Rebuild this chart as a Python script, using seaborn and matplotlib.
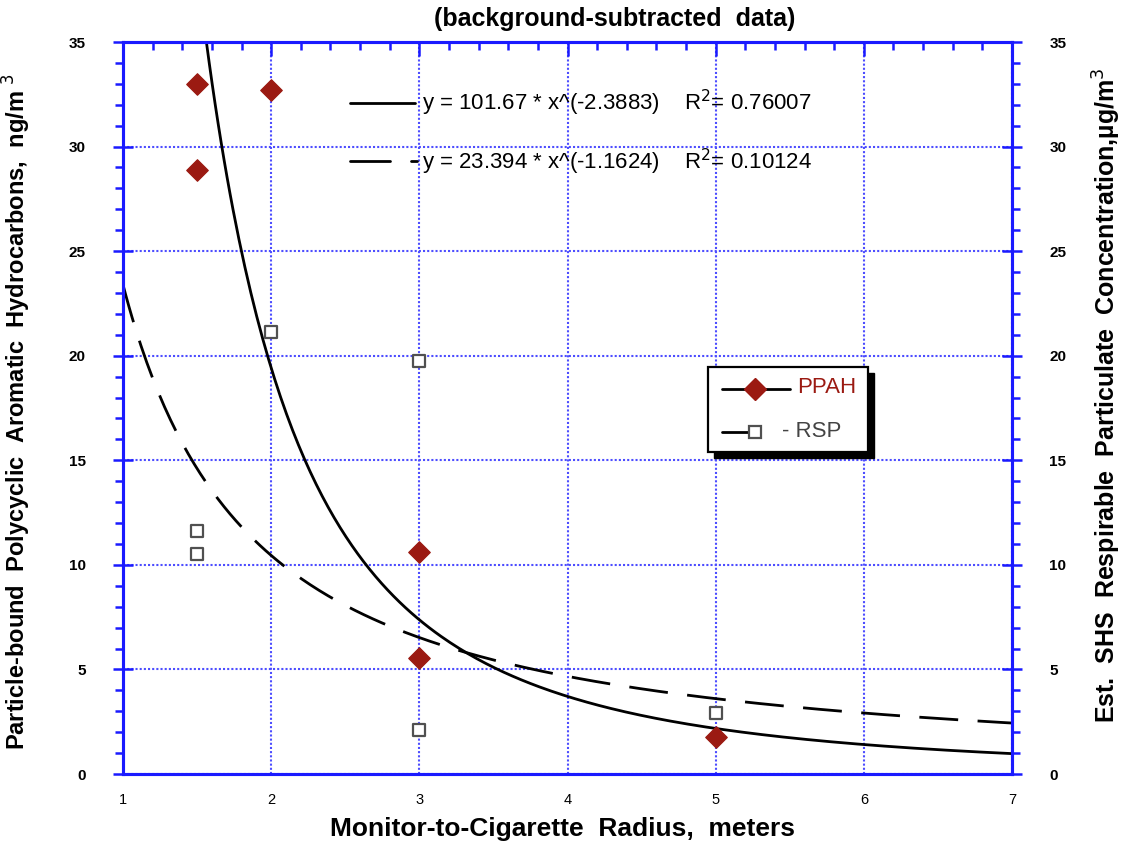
import numpy as np
import pandas as pd
import matplotlib
matplotlib.use("Agg")
import matplotlib.pyplot as plt
from matplotlib.lines import Line2D
from matplotlib.patches import Rectangle
from matplotlib.ticker import MultipleLocator
import seaborn as sns

# ---- data ----
ppah_x = [1.5, 1.5, 2.0, 3.0, 3.0, 5.0]
ppah_y = [33.0, 28.9, 32.7, 10.6, 5.55, 1.77]
rsp_x = [1.5, 1.5, 2.0, 3.0, 3.0, 5.0]
rsp_y = [11.62, 10.52, 21.14, 19.75, 2.10, 2.92]
# power-fit coefficients shown on the chart: y = a * x^b
fit_ppah = (101.67, -2.3883)
fit_rsp = (23.394, -1.1624)
fit_labels = ["y = 101.67 * x^(-2.3883)    R$^2$= 0.76007",
              "y = 23.394 * x^(-1.1624)    R$^2$= 0.10124"]
series_names = ["PPAH", "- RSP"]
x_ticks = [1, 2, 3, 4, 5, 6, 7]
y_ticks = [0, 5, 10, 15, 20, 25, 30, 35]

sns.set_theme(style="white")
plt.rcParams['font.family'] = ['Liberation Sans', 'DejaVu Sans']
plt.rcParams['text.color'] = 'black'
plt.rcParams['xtick.color'] = 'black'
plt.rcParams['ytick.color'] = 'black'

BLUE = "#1a1aff"
GRID = "#4d4dff"
RED = "#9b1a12"
GRAY = "#505050"

W, H = 1128, 848
fig = plt.figure(figsize=(W/100, H/100), dpi=100)
ax = fig.add_axes([123/W, 1-774/H, (1012-123)/W, (774-42)/H])

xs = np.linspace(1, 7, 300)
df_fit = pd.DataFrame({
    "x": np.concatenate([xs, xs]),
    "y": np.concatenate([fit_ppah[0]*xs**fit_ppah[1], fit_rsp[0]*xs**fit_rsp[1]]),
    "fit": ["PPAH"]*len(xs) + ["RSP"]*len(xs),
})
sns.lineplot(data=df_fit[df_fit.fit == "PPAH"], x="x", y="y", color="black", lw=2, ax=ax, legend=False)
sns.lineplot(data=df_fit[df_fit.fit == "RSP"], x="x", y="y", color="black", lw=2, ax=ax,
             legend=False, linestyle=(0, (14, 7)))

sns.scatterplot(x=ppah_x, y=ppah_y, marker="D", s=120, color=RED, edgecolor=RED, ax=ax, zorder=5)
sns.scatterplot(x=rsp_x, y=rsp_y, marker="s", s=85, facecolor="white", edgecolor=GRAY,
                linewidth=1.6, ax=ax, zorder=5)

ax.set_xlim(1, 7)
ax.set_ylim(0, 35)
ax.set_xticks(x_ticks)
ax.set_yticks(y_ticks)
ax.xaxis.set_minor_locator(MultipleLocator(0.2))
ax.yaxis.set_minor_locator(MultipleLocator(1))
ax.set_xticklabels([str(v) for v in x_ticks], fontsize=10.5)
ax.set_yticklabels([str(v) for v in y_ticks], fontsize=11, fontweight="bold")
ax.grid(True, which="major", color=GRID, linestyle=(0, (1, 1)), linewidth=1.5)
ax.set_xlabel("")
ax.set_ylabel("")
for s in ax.spines.values():
    s.set_color(BLUE)
    s.set_linewidth(2.2)
ax.tick_params(axis="x", which="major", direction="in", length=10, width=1.8, color=BLUE,
               top=True, pad=14)
ax.tick_params(axis="x", which="minor", direction="in", length=6, width=1.8, color=BLUE, top=True)
ax.tick_params(axis="y", which="major", direction="inout", length=14, width=1.8, color=BLUE, pad=20)
ax.tick_params(axis="y", which="minor", direction="out", length=6, width=1.8, color=BLUE)

ax2 = ax.twinx()
ax2.set_ylim(0, 35)
ax2.set_yticks(y_ticks)
ax2.yaxis.set_minor_locator(MultipleLocator(1))
ax2.set_yticklabels([str(v) for v in y_ticks], fontsize=11, fontweight="bold")
ax2.tick_params(axis="y", which="major", direction="inout", length=14, width=1.8, color=BLUE, pad=20)
ax2.tick_params(axis="y", which="minor", direction="out", length=6, width=1.8, color=BLUE)
for s in ax2.spines.values():
    s.set_color(BLUE)
    s.set_linewidth(2.2)
ax2.grid(False)

ft = fig.transFigure
def fx(px):
    return px / W
def fy(py):
    return 1 - py / H

# equation annotations
fig.add_artist(Line2D([fx(350), fx(415)], [fy(103)]*2, color="black", lw=2, transform=ft))
fig.text(fx(422), fy(103), fit_labels[0], fontsize=16, va="center", ha="left")
fig.add_artist(Line2D([fx(350), fx(390)], [fy(161)]*2, color="black", lw=2, transform=ft))
fig.add_artist(Line2D([fx(411), fx(417)], [fy(161)]*2, color="black", lw=2, transform=ft))
fig.text(fx(422), fy(162), fit_labels[1], fontsize=16, va="center", ha="left")

# legend box (drawn manually to match the original layout)
fig.add_artist(Rectangle((fx(714), fy(458)), fx(868)-fx(708), fy(367)-fy(452),
                         transform=ft, facecolor="black", edgecolor="black", zorder=9))
fig.add_artist(Rectangle((fx(708), fy(452)), fx(868)-fx(708), fy(367)-fy(452),
                         transform=ft, facecolor="white", edgecolor="black", lw=1.6, zorder=10))
fig.add_artist(Line2D([fx(722), fx(790)], [fy(389)]*2, color="black", lw=2, transform=ft, zorder=11))
fig.add_artist(Line2D([fx(755)], [fy(389)], marker="D", markersize=11, color=RED, ls="none",
                      transform=ft, zorder=12))
fig.add_artist(Line2D([fx(722), fx(752)], [fy(432)]*2, color="black", lw=2, transform=ft, zorder=11))
fig.add_artist(Line2D([fx(755)], [fy(432)], marker="s", markersize=8.5, markerfacecolor="white",
                      markeredgecolor=GRAY, markeredgewidth=1.6, ls="none", transform=ft, zorder=12))
fig.text(fx(797), fy(388), series_names[0], fontsize=16, color=RED, va="center", ha="left", zorder=12)
fig.text(fx(782), fy(431), series_names[1], fontsize=16, color="#444444", va="center", ha="left", zorder=12)

# labels
fig.text(fx(615), fy(26), "(background-subtracted  data)", fontsize=18, fontweight="bold",
         ha="center", va="baseline")
fig.text(fx(562), fy(836), "Monitor-to-Cigarette  Radius,  meters", fontsize=19,
         fontweight="bold", ha="center", va="baseline")
fig.text(fx(17), fy(412), "Particle-bound  Polycyclic  Aromatic  Hydrocarbons,  ng/m $^{3}$",
         fontsize=17, fontweight="bold", rotation=90, ha="center", va="center")
fig.text(fx(1107), fy(395), "Est.  SHS  Respirable  Particulate  Concentration,µg/m$^{3}$",
         fontsize=18, fontweight="bold", rotation=90, ha="center", va="center")

fig.savefig("out.png", dpi=100)
